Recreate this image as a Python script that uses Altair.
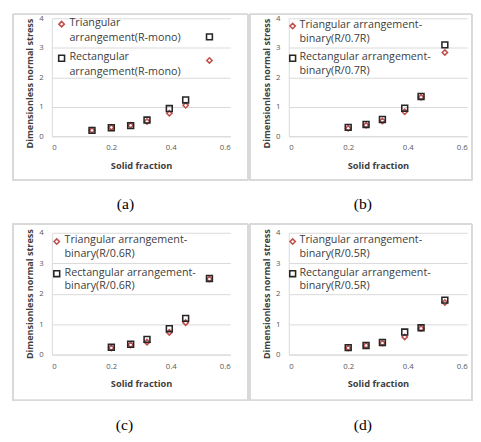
import altair as alt
import pandas as pd

series_names = ["Triangular", "Rectangular"]
captions = ["(a)", "(b)", "(c)", "(d)"]
legend_labels = [
    ["Triangular|arrangement(R-mono)", "Rectangular|arrangement(R-mono)"],
    ["Triangular arrangement-|binary(R/0.7R)", "Rectangular arrangement-|binary(R/0.7R)"],
    ["Triangular arrangement-|binary(R/0.6R)", "Rectangular arrangement-|binary(R/0.6R)"],
    ["Triangular arrangement-|binary(R/0.5R)", "Rectangular arrangement-|binary(R/0.5R)"],
]
x_ticks = [0, 0.2, 0.4, 0.6]
y_ticks = [0, 1, 2, 3, 4]

x_a = [0.135, 0.2, 0.265, 0.32, 0.395, 0.45, 0.53]
tri_a = [0.2, 0.3, 0.37, 0.5, 0.78, 1.05, 2.57]
rect_a = [0.2, 0.29, 0.36, 0.55, 0.94, 1.23, 3.37]

x_b = [0.2, 0.26, 0.315, 0.39, 0.445, 0.525]
tri_b = [0.27, 0.37, 0.52, 0.83, 1.32, 2.84]
rect_b = [0.3, 0.4, 0.57, 0.95, 1.35, 3.1]

x_c = [0.2, 0.265, 0.32, 0.395, 0.45, 0.53]
tri_c = [0.22, 0.32, 0.41, 0.73, 1.05, 2.48]
rect_c = [0.24, 0.34, 0.5, 0.85, 1.19, 2.5]

x_d = [0.2, 0.26, 0.315, 0.39, 0.445, 0.525]
tri_d = [0.22, 0.3, 0.38, 0.58, 0.86, 1.71]
rect_d = [0.23, 0.3, 0.4, 0.74, 0.88, 1.79]

panels = [
    (x_a, tri_a, rect_a),
    (x_b, tri_b, rect_b),
    (x_c, tri_c, rect_c),
    (x_d, tri_d, rect_d),
]

FONT = "Open Sans"
RED = "#C0504D"
BLACK = "#262626"
GRID = "#d9d9d9"
COLORS = [RED, BLACK]
SHAPES = ["diamond", "square"]
SIZES = [30, 36]

# per-panel layout (pixels relative to plot area)
plot_w = 183
plot_h = [121, 121, 125, 125]
frame_box = [(-40, 201, -4, 166), (-40, 188, -4, 166), (-40, 201, -9, 172), (-40, 188, -9, 172)]
ytitle_shift = [6, 6, 0, 0]
leg_sym_x = [10, 4, 5, 4]
leg_txt_x = [18, 11, 13, 11]
leg_y = [(6, 41), (8, 41), (9, 42), (9, 42)]
leg_lh = [15, 14, 14, 14]
cap_dx = [-5, 2, -6, 2]
cap_off = [16, 16, 17, 17]


def make_panel(i):
    xs, tri, rect = panels[i]
    h = plot_h[i]
    rows = []
    for x, y in zip(xs, tri):
        rows.append({"x": x, "y": y, "s": series_names[0]})
    for x, y in zip(xs, rect):
        rows.append({"x": x, "y": y, "s": series_names[1]})
    df = pd.DataFrame(rows)

    pts = alt.Chart(df).mark_point(filled=False, strokeWidth=1.6, opacity=1).encode(
        x=alt.X("x:Q", scale=alt.Scale(domain=[0, 0.6]),
                axis=alt.Axis(title="Solid fraction", values=x_ticks, format="~g",
                              grid=False, ticks=False, domain=True, domainColor=GRID,
                              labelFontSize=8, labelColor="#595959", titleFontSize=9.5,
                              titleFontWeight="bold", titleColor="#404040", titleFont=FONT,
                              labelFont=FONT, labelPadding=8, titlePadding=9)),
        y=alt.Y("y:Q", scale=alt.Scale(domain=[0, 4]),
                axis=alt.Axis(title="Dimensionless normal stress", values=y_ticks,
                              grid=True, gridColor=GRID, ticks=False, domain=True,
                              domainColor=GRID, labelFontSize=8, labelColor="#595959",
                              titleFontSize=9.3, titleFontWeight="bold", titleColor="#404040",
                              titleFont=FONT, labelFont=FONT, labelPadding=9, titlePadding=4,
                              titleY=h / 2 + ytitle_shift[i], titleAlign="center")),
        color=alt.Color("s:N", scale=alt.Scale(domain=series_names, range=COLORS), legend=None),
        shape=alt.Shape("s:N", scale=alt.Scale(domain=series_names, range=SHAPES), legend=None),
        size=alt.Size("s:N", scale=alt.Scale(domain=series_names, range=SIZES), legend=None),
    )

    fx, fx2, fy, fy2 = frame_box[i]
    frame = alt.Chart(df).mark_rect(fill=None, stroke=GRID, strokeWidth=1).encode(
        x=alt.value(fx), x2=alt.value(fx2), y=alt.value(fy), y2=alt.value(fy2)
    )

    layers = [frame, pts]
    for k in range(2):
        d = pd.DataFrame({"t": [legend_labels[i][k]]})
        layers.append(
            alt.Chart(d).mark_point(shape=SHAPES[k], filled=False, color=COLORS[k],
                                    size=SIZES[k], strokeWidth=1.6, opacity=1).encode(
                x=alt.value(leg_sym_x[i]), y=alt.value(leg_y[i][k]))
        )
        layers.append(
            alt.Chart(d).mark_text(align="left", baseline="top", lineBreak="|",
                                   lineHeight=leg_lh[i], font=FONT, fontSize=11,
                                   color="#404040").encode(
                x=alt.value(leg_txt_x[i]), y=alt.value(leg_y[i][k] - 7), text="t:N")
        )

    return alt.layer(*layers).properties(
        width=plot_w, height=h,
        title=alt.TitleParams(captions[i], orient="bottom", frame="bounds", anchor="middle",
                              font="Liberation Serif", fontSize=16, fontWeight="normal",
                              color="black", offset=cap_off[i], dx=cap_dx[i]),
    )


row1 = alt.hconcat(make_panel(0), make_panel(1), spacing=0)
row2 = alt.hconcat(make_panel(2), make_panel(3), spacing=0)

chart = alt.vconcat(row1, row2, spacing=11).properties(
    padding={"left": 4, "top": 0, "right": 0, "bottom": 0}
).configure_view(stroke=None)

chart.save("out.html", embed_options={"renderer": "svg", "actions": False})
